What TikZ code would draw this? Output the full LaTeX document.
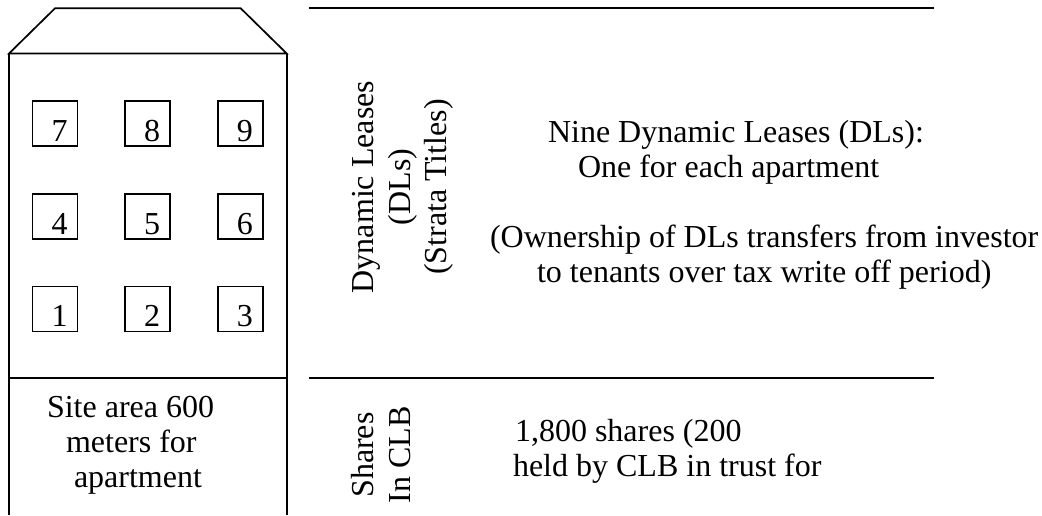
\documentclass[tikz,border=0pt]{standalone}
\usepackage{fontspec}
\setmainfont{Liberation Serif}
\begin{document}
\begin{tikzpicture}[x=0.5pt,y=-0.5pt,
  ln/.style={line width=0.85pt},
  txt/.style={inner sep=0pt,outer sep=0pt,font=\fontsize{16pt}{17.5pt}\selectfont},
  win/.style={draw,line width=0.85pt,minimum size=22.5pt,inner sep=0pt,outer sep=0pt},
  vtxt/.style={txt,rotate=90,anchor=base}]
\useasboundingbox (0,0) rectangle (1042,515);
% building
\coordinate (rtl) at (55,8.3);
\coordinate (rtr) at (240.7,8.3);
\coordinate (el) at (9,53.5);
\coordinate (er) at (286.7,53.5);
\coordinate (bl) at (9,515);
\coordinate (br) at (286.7,515);
\coordinate (ml) at (9,377.7);
\coordinate (mr) at (286.7,377.7);
\draw[ln,line join=miter] (el) -- (rtl) -- (rtr) -- (er) -- cycle;
\draw[ln] (el) -- (bl);
\draw[ln] (er) -- (br);
\draw[ln] (ml) -- (mr);
% windows
\foreach \n/\cx/\cy in {7/55/123.3,8/147.7/123.3,9/240.3/123.3,
                        4/55/216.3,5/147.7/216.3,6/240.3/216.3,
                        1/55/309,2/147.7/309,3/240.3/309}{
  \node[win] (w\n) at (\cx,\cy) {};
  \node[txt,anchor=base west] (d\n) at (\cx-3.5,\cy+17.7) {\n};
}
% site text
\node[txt,anchor=base west] (s1) at (47,417) {Site area 600};
\node[txt,anchor=base west] (s2) at (66,452) {meters for};
\node[txt,anchor=base west] (s3) at (74,487) {apartment};
% right lines
\coordinate (t1) at (309,7.7);
\coordinate (t2) at (934,7.7);
\coordinate (m1) at (309,378);
\coordinate (m2) at (934,378);
\draw[ln] (t1) -- (t2);
\draw[ln] (m1) -- (m2);
% rotated labels
\node[vtxt] (v1) at (373,187) {Dynamic Leases};
\node[vtxt] (v2) at (410,187) {(DLs)};
\node[vtxt] (v3) at (446,187) {(Strata Titles)};
\node[vtxt] (v4) at (373,455) {Shares};
\node[vtxt] (v5) at (410,455) {In CLB};
% right text
\node[txt,anchor=base west] (r1) at (548,142) {Nine Dynamic Leases (DLs):};
\node[txt,anchor=base west] (r2) at (578,177) {One for each apartment};
\node[txt,anchor=base west] (r3) at (490,247) {(Ownership of DLs transfers from investor};
\node[txt,anchor=base west] (r4) at (537,282) {to tenants over tax write off period)};
\node[txt,anchor=base west] (b1) at (515,441) {1,800 shares (200};
\node[txt,anchor=base west] (b2) at (513,476) {held by CLB in trust for};
\end{tikzpicture}
\end{document}
